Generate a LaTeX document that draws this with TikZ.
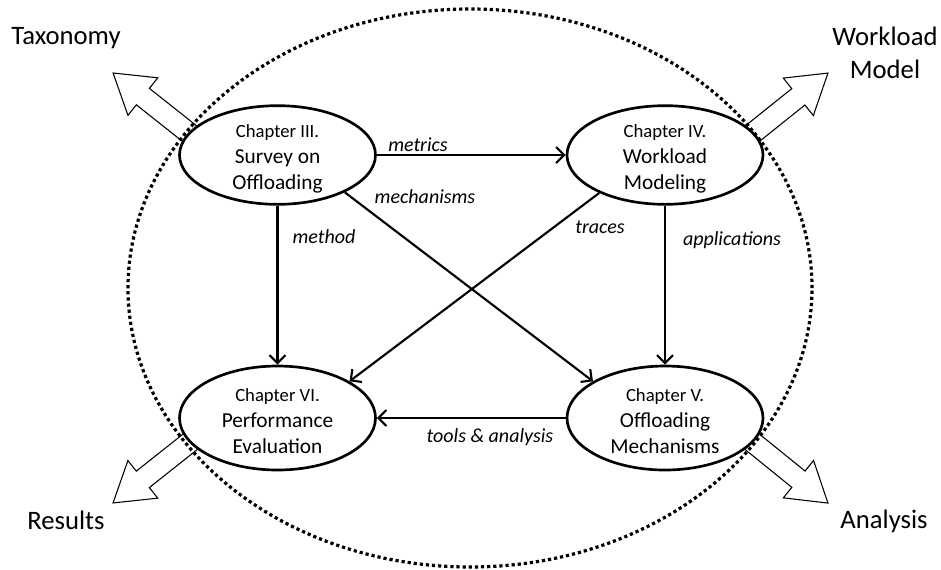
\documentclass[tikz,border=0pt]{standalone}
\usepackage{fontspec}
\setmainfont{Carlito}
\usetikzlibrary{shapes.geometric, arrows.meta}

\newcommand{\chaptitle}[1]{\rule{0pt}{15pt}{\fontsize{14}{19.5}\selectfont #1}}

\tikzset{
	chapter/.style={draw, ellipse, line width=2pt, fill=white, inner xsep=0pt, inner ysep=-3pt,
		minimum width=147pt, minimum height=74pt, align=center,
		font=\fontsize{16}{19.5}\selectfont},
	flow/.style={line width=1.6pt, -{Straight Barb[length=6pt,width=12pt,line width=1.6pt]}},
	flowlabel/.style={font=\fontsize{15}{18}\selectfont\itshape},
	outarrow/.style={draw, fill=white, line width=0.8pt, line join=miter},
	outlabel/.style={align=center, font=\fontsize{20}{25}\selectfont}
}

\begin{document}
\begin{tikzpicture}[x=0.75pt, y=-0.75pt]
			\useasboundingbox (0,0) rectangle (941,569);
			
			% outgoing results
			\foreach \name/\tx/\ty/\ang/\len/\lx/\ly/\txt in {
				tax/201.8/143.3/141.6/113.2/66/38/Taxonomy,
				wlm/740.8/142.9/38.7/111.7/885/53/{Workload\\Model},
				res/202.3/432.2/218.4/113.9/66/520/Results,
				ana/740.3/432.1/-39/112.8/887/521/Analysis
			}{
				\begin{scope}[shift={(\tx,\ty)}, rotate=\ang]
					\draw[outarrow] (0,-10.5) -- (\len-38,-10.5) -- (\len-38,-24) -- (\len,0)
						-- (\len-38,24) -- (\len-38,10.5) -- (0,10.5) -- cycle;
				\end{scope}
				\node[outlabel] (\name) at (\lx,\ly) {\txt};
			}
			
			\node[draw, ellipse, line width=2.4pt, dash pattern=on 2.4pt off 2.2pt,
				minimum width=513pt, minimum height=418.5pt] (thesis) at (470,288) {};
			
			\node[chapter] (ch3) at (277.5,155) {\chaptitle{Chapter III.}\\Survey on\\Offloading};
			\node[chapter] (ch4) at (665,155) {\chaptitle{Chapter IV.}\\Workload\\Modeling};
			\node[chapter, minimum height=78pt] (ch5) at (665,418) {\chaptitle{Chapter V.}\\Offloading\\Mechanisms};
			\node[chapter, minimum height=78pt] (ch6) at (277.5,418) {\chaptitle{Chapter VI.}\\Performance\\Evaluation};
			
			\draw[flow] (ch3.east) -- (ch4.west);
			\draw[flow] (ch3.south) -- (ch6.north);
			\draw[flow] (ch4.south) -- (ch5.north);
			\draw[flow] (ch5.west) -- (ch6.east);
			\draw[flow] (ch3.-29) -- (ch5.153);
			\draw[flow] (ch4.210) -- (ch6.27);
			
			\node[flowlabel] (metrics) at (418,145) {metrics};
			\node[flowlabel] (mech) at (425,197) {mechanisms};
			\node[flowlabel] (traces) at (600,227) {traces};
			\node[flowlabel] (method) at (324,237) {method};
			\node[flowlabel] (apps) at (732,240) {applications};
			\node[flowlabel] (tools) at (490,437) {tools \& analysis};
		\end{tikzpicture}
\end{document}
